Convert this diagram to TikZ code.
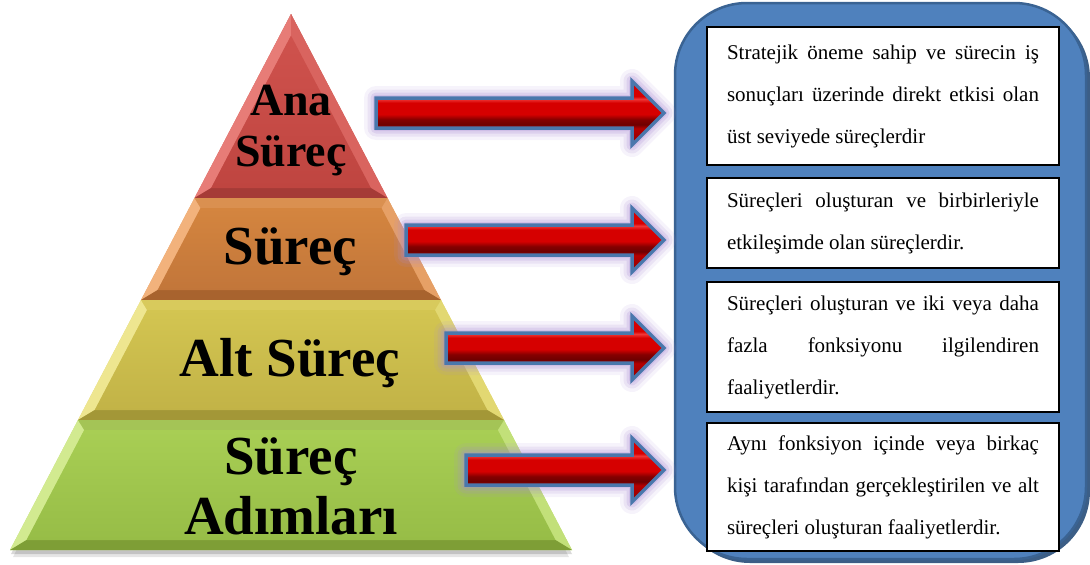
\documentclass[tikz,border=0pt]{standalone}
\usepackage{fontspec}
\setmainfont{Liberation Serif}
\usetikzlibrary{calc}

% band palette
\definecolor{redMainT}{HTML}{CF524D}
\definecolor{redMainB}{HTML}{BF4540}
\definecolor{redLight}{HTML}{E77C77}
\definecolor{redSide}{HTML}{D9645F}
\definecolor{redTop}{HTML}{D9645F}
\definecolor{redDark}{HTML}{A53B37}

\definecolor{orMainT}{HTML}{D4853F}
\definecolor{orMainB}{HTML}{C2763A}
\definecolor{orLight}{HTML}{F2B27C}
\definecolor{orSide}{HTML}{E6A066}
\definecolor{orTop}{HTML}{DA9050}
\definecolor{orDark}{HTML}{A8632E}

\definecolor{yeMainT}{HTML}{D3C551}
\definecolor{yeMainB}{HTML}{C2B347}
\definecolor{yeLight}{HTML}{EEE690}
\definecolor{yeSide}{HTML}{E2D872}
\definecolor{yeTop}{HTML}{D8CA5C}
\definecolor{yeDark}{HTML}{A39737}

\definecolor{grMainT}{HTML}{A8CE54}
\definecolor{grMainB}{HTML}{97BD47}
\definecolor{grLight}{HTML}{D2EA90}
\definecolor{grSide}{HTML}{C2E079}
\definecolor{grTop}{HTML}{A4C456}
\definecolor{grDark}{HTML}{7E9E36}

% panel and arrows
\definecolor{panelFill}{HTML}{4F81BD}
\definecolor{panelEdge}{HTML}{3A6393}
\definecolor{panelShade}{HTML}{3C5E86}
\definecolor{arrowEdge}{HTML}{4A77AC}
\definecolor{arrowGlow}{HTML}{A98CD4}
\definecolor{rbA}{HTML}{8E0000}
\definecolor{rbB}{HTML}{B40000}
\definecolor{rbC}{HTML}{6E0000}
\definecolor{rbD}{HTML}{850000}
\definecolor{rbE}{HTML}{D60000}
\definecolor{rbF}{HTML}{F03838}

\pgfdeclareverticalshading{redbar}{100bp}{%
  color(0bp)=(rbA); color(25bp)=(rbA); color(38bp)=(rbB); color(41bp)=(rbC);
  color(45bp)=(rbD); color(49bp)=(rbE); color(58bp)=(rbE); color(61bp)=(rbF);
  color(63bp)=(rbE); color(75bp)=(rbE); color(100bp)=(rbE)}

% block arrow outline between two points on one horizontal line
\newcommand\arrowoutline[2]{let \p1=(#1), \p2=(#2) in
  (\x1,\y1+15pt) -- (\x2-32pt,\y1+15pt) -- (\x2-32pt,\y1+32pt) -- (\x2,\y1)
  -- (\x2-32pt,\y1-32pt) -- (\x2-32pt,\y1-15pt) -- (\x1,\y1-15pt) -- cycle}

\newcommand\blockarrow[2]{%
  \draw[arrowGlow, opacity=.10, line width=24pt, line join=round] \arrowoutline{#1}{#2};
  \draw[arrowGlow, opacity=.16, line width=17pt, line join=round] \arrowoutline{#1}{#2};
  \draw[arrowGlow, opacity=.22, line width=11pt, line join=round] \arrowoutline{#1}{#2};
  \draw[arrowGlow, opacity=.25, line width=6pt, line join=round] \arrowoutline{#1}{#2};
  \shade[shading=redbar] \arrowoutline{#1}{#2};
  \draw[arrowEdge, line width=3.5pt, line join=miter] \arrowoutline{#1}{#2};
}

% bevelled pyramid band from named corner coordinates
\newcommand\bevelband[7]{%
  \fill[#3] (#1TL) -- (#1TR) -- (#1BR) -- (#1BL) -- cycle;
  \fill[#2] (#1TL) -- (#1tl) -- (#1bl) -- (#1BL) -- cycle;
  \fill[#3] (#1TR) -- (#1tr) -- (#1br) -- (#1BR) -- cycle;
  \fill[#4] (#1TL) -- (#1TR) -- (#1tr) -- (#1tl) -- cycle;
  \fill[#5] (#1BL) -- (#1BR) -- (#1br) -- (#1bl) -- cycle;
  \shade[top color=#6, bottom color=#7] (#1tl) -- (#1tr) -- (#1br) -- (#1bl) -- cycle;
}

\tikzset{
  leveltext/.style={inner sep=0pt, align=center, font=\bfseries},
  infobox/.style={draw=black, line width=1.1pt, fill=white, minimum width=352pt,
    text width=312pt, align=justify, inner sep=0pt,
    font=\fontsize{21}{42}\selectfont},
}

\begin{document}
\begin{tikzpicture}[x=1pt, y=-1pt]
\useasboundingbox (0,0) rectangle (1090,565);

% ---------- pyramid ----------
% red top triangle
\coordinate (rTL) at (291,14);    \coordinate (rTR) at (291,14);
\coordinate (rBR) at (387.5,198); \coordinate (rBL) at (194.5,198);
\coordinate (rtl) at (291,35.6);  \coordinate (rtr) at (291,35.6);
\coordinate (rbr) at (370.9,188); \coordinate (rbl) at (211.1,188);
% orange band
\coordinate (oTL) at (194.5,198); \coordinate (oTR) at (387.5,198);
\coordinate (oBR) at (441,300);   \coordinate (oBL) at (141,300);
\coordinate (otl) at (200.6,208); \coordinate (otr) at (381.4,208);
\coordinate (obr) at (424.4,290); \coordinate (obl) at (157.6,290);
% yellow band
\coordinate (yTL) at (141,300);   \coordinate (yTR) at (441,300);
\coordinate (yBR) at (504,420);   \coordinate (yBL) at (78,420);
\coordinate (ytl) at (147.1,310); \coordinate (ytr) at (434.9,310);
\coordinate (ybr) at (487.3,410); \coordinate (ybl) at (94.7,410);
% green band
\coordinate (gTL) at (78,420);    \coordinate (gTR) at (504,420);
\coordinate (gBR) at (572,550);   \coordinate (gBL) at (10,550);
\coordinate (gtl) at (84.2,430);  \coordinate (gtr) at (497.8,430);
\coordinate (gbr) at (555.5,540); \coordinate (gbl) at (26.5,540);

% soft drop shadow under the pyramid
\fill[black, opacity=.10] ([shift={(3,7)}]gBL) -- ([shift={(-3,7)}]gBR) -- (rTL) -- cycle;
\fill[black, opacity=.15] ([shift={(1,4)}]gBL) -- ([shift={(0,4)}]gBR) -- (rTL) -- cycle;

\bevelband{r}{redLight}{redSide}{redTop}{redDark}{redMainT}{redMainB}
\bevelband{o}{orLight}{orSide}{orTop}{orDark}{orMainT}{orMainB}
\bevelband{y}{yeLight}{yeSide}{yeTop}{yeDark}{yeMainT}{yeMainB}
\bevelband{g}{grLight}{grSide}{grTop}{grDark}{grMainT}{grMainB}

\node[leveltext, font=\bfseries\fontsize{46}{51}\selectfont] (t1) at (291,131) {Ana\\Süreç};
\node[leveltext, font=\bfseries\fontsize{55}{60}\selectfont] (t2) at (290.5,252) {Süreç};
\node[leveltext, font=\bfseries\fontsize{55}{60}\selectfont] (t3) at (290,363) {Alt Süreç};
\node[leveltext, font=\bfseries\fontsize{55}{60}\selectfont] (t4) at (291,486) {Süreç\\Adımları};

% ---------- right panel ----------
\fill[panelShade, rounded corners=72pt] (678,6) rectangle (1090,563);
\draw[panelEdge, fill=panelFill, line width=2.5pt, rounded corners=72pt] (675,3) rectangle (1086,559);

\node[infobox, minimum height=138pt] (b1) at (883,96)
  {Stratejik öneme sahip ve sürecin iş\linebreak sonuçları üzerinde direkt etkisi olan\linebreak üst seviyede süreçlerdir};
\node[infobox, minimum height=90pt] (b2) at (883,223)
  {Süreçleri oluşturan ve birbirleriyle\linebreak etkileşimde olan süreçlerdir.};
\node[infobox, minimum height=130pt] (b3) at (883,347)
  {Süreçleri oluşturan ve iki veya daha\linebreak fazla fonksiyonu ilgilendiren\linebreak faaliyetlerdir.};
\node[infobox, minimum height=128pt] (b4) at (883,487)
  {Aynı fonksiyon içinde veya birkaç\linebreak kişi tarafından gerçekleştirilen ve alt\linebreak süreçleri oluşturan faaliyetlerdir.};

% ---------- arrows ----------
\coordinate (a1s) at (376,113); \coordinate (a1e) at (664,113);
\coordinate (a2s) at (406,240); \coordinate (a2e) at (664,240);
\coordinate (a3s) at (446,348); \coordinate (a3e) at (664,348);
\coordinate (a4s) at (466,470); \coordinate (a4e) at (664,470);

\blockarrow{a1s}{a1e}
\blockarrow{a2s}{a2e}
\blockarrow{a3s}{a3e}
\blockarrow{a4s}{a4e}
\end{tikzpicture}
\end{document}
